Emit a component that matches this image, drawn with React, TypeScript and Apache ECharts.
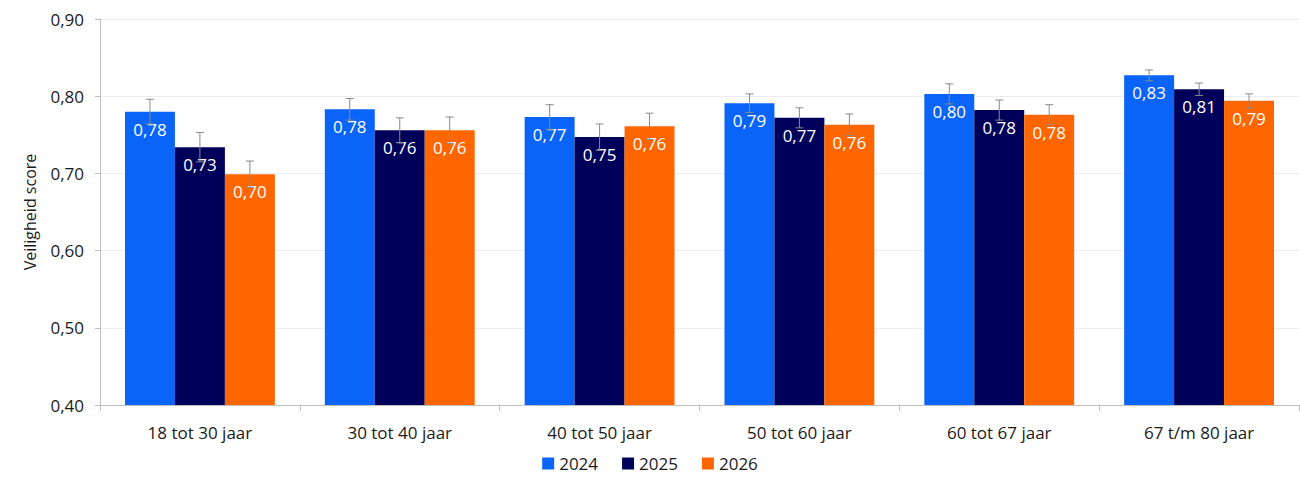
import React, { useEffect, useRef } from 'react';
import * as echarts from 'echarts';

const categories = ['18 tot 30 jaar', '30 tot 40 jaar', '40 tot 50 jaar', '50 tot 60 jaar', '60 tot 67 jaar', '67 t/m 80 jaar'];
const years = ['2024', '2025', '2026'];
const values2024 = [0.78, 0.783, 0.773, 0.791, 0.803, 0.827];
const values2025 = [0.734, 0.756, 0.747, 0.772, 0.782, 0.809];
const values2026 = [0.699, 0.756, 0.761, 0.763, 0.776, 0.794];
const err2024 = [0.016, 0.014, 0.016, 0.012, 0.013, 0.007];
const err2025 = [0.019, 0.016, 0.017, 0.013, 0.013, 0.008];
const err2026 = [0.017, 0.017, 0.017, 0.014, 0.013, 0.009];
const colors = ['#0a64f8', '#00005a', '#ff6600'];

const FONT = '"Open Sans", sans-serif';
const fmt = (v: number) => v.toFixed(2).replace('.', ',');

const App: React.FC = () => {
  const chartRef = useRef<HTMLDivElement>(null);

  useEffect(() => {
    if (!chartRef.current) return;
    const chart = echarts.init(chartRef.current, null, { renderer: 'svg' });

    const allValues = [values2024, values2025, values2026];
    const allErrs = [err2024, err2025, err2026];

    const barSeries = years.map((y, i) => ({
      name: y,
      type: 'bar',
      data: allValues[i],
      itemStyle: { color: colors[i] },
      barGap: '0%',
      barCategoryGap: '25%',
      label: {
        show: true,
        position: 'insideTop',
        distance: 9,
        color: '#ffffff',
        fontSize: 17,
        fontFamily: FONT,
        formatter: (p: any) => fmt(p.value),
      },
      z: 2,
    }));

    // error bars drawn on top of each bar
    const errSeries = years.map((y, i) => ({
      name: y + '-err',
      type: 'custom',
      data: allValues[i].map((v, k) => [k, v - allErrs[i][k], v + allErrs[i][k]]),
      encode: { x: 0, y: [1, 2] },
      z: 5,
      silent: true,
      renderItem: (params: any, api: any) => {
        const cat = api.value(0);
        const lowPt = api.coord([cat, api.value(1)]);
        const highPt = api.coord([cat, api.value(2)]);
        const band = api.size([1, 0])[0];
        const bw = (band * 0.75) / 3;
        const x = lowPt[0] + (i - 1) * bw;
        const cap = 4;
        const style = { stroke: '#8a8a8a', lineWidth: 1 };
        return {
          type: 'group',
          children: [
            { type: 'line', shape: { x1: x, y1: lowPt[1], x2: x, y2: highPt[1] }, style },
            { type: 'line', shape: { x1: x - cap, y1: highPt[1], x2: x + cap, y2: highPt[1] }, style },
            { type: 'line', shape: { x1: x - cap, y1: lowPt[1], x2: x + cap, y2: lowPt[1] }, style },
          ],
        };
      },
    }));

    chart.setOption({
      animation: false,
      textStyle: { fontFamily: FONT },
      grid: { left: 100, right: 1, top: 19, bottom: 81 },
      legend: {
        data: years,
        bottom: 9,
        left: 'center',
        icon: 'rect',
        itemWidth: 12,
        itemHeight: 12,
        itemGap: 24,
        textStyle: { fontSize: 17, color: '#1a1a1a', fontFamily: FONT },
      },
      xAxis: {
        type: 'category',
        data: categories,
        axisLine: { lineStyle: { color: '#bfbfbf' } },
        axisTick: { show: true, length: 6, lineStyle: { color: '#bfbfbf' } },
        axisLabel: { fontSize: 17, color: '#1a1a1a', margin: 19, fontFamily: FONT },
      },
      yAxis: {
        type: 'value',
        min: 0.4,
        max: 0.9,
        interval: 0.1,
        name: 'Veiligheid score',
        nameLocation: 'middle',
        nameGap: 62,
        nameTextStyle: { fontSize: 16, color: '#1a1a1a', fontFamily: FONT },
        axisLine: { show: true, lineStyle: { color: '#bfbfbf' } },
        axisTick: { show: true, length: 5, lineStyle: { color: '#bfbfbf' } },
        axisLabel: { fontSize: 17, color: '#1a1a1a', margin: 16, fontFamily: FONT, formatter: (v: number) => fmt(v) },
        splitLine: { lineStyle: { color: '#ececec' } },
      },
      series: [...barSeries, ...errSeries],
    });

    const onResize = () => chart.resize();
    window.addEventListener('resize', onResize);
    return () => {
      window.removeEventListener('resize', onResize);
      chart.dispose();
    };
  }, []);

  return (
    <div
      ref={chartRef}
      style={{ position: 'fixed', left: 0, top: 0, width: '1300px', height: '486px', background: '#ffffff' }}
    />
  );
};

export default App;
